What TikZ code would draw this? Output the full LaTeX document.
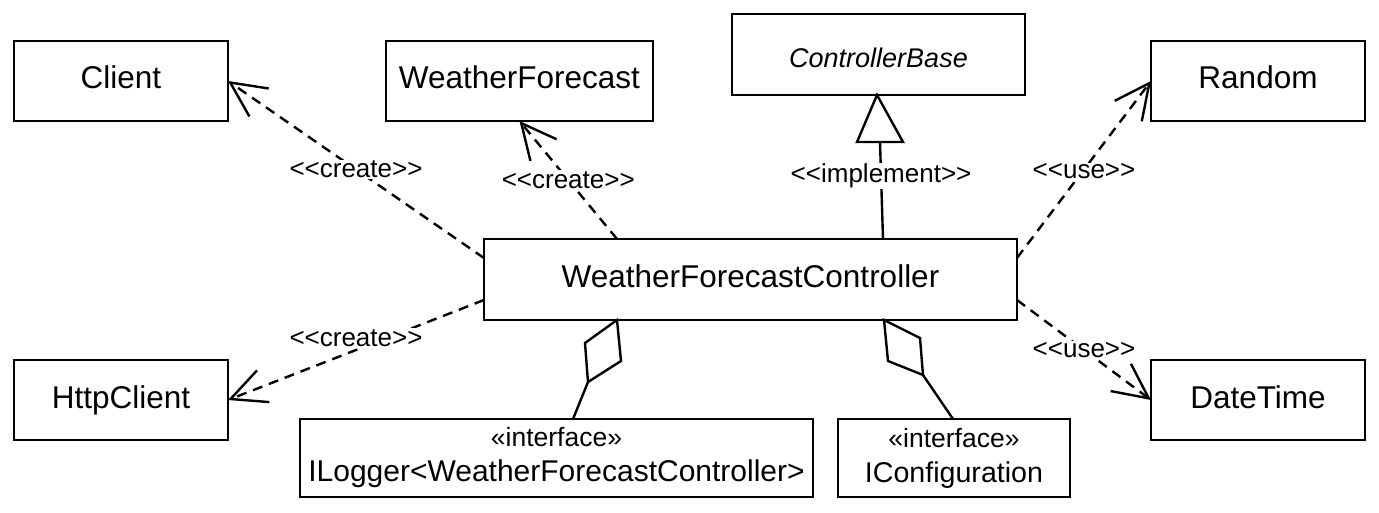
\documentclass[tikz,border=0pt]{standalone}
\usepackage{fontspec}
\setmainfont{Liberation Sans}
\usetikzlibrary{arrows.meta,calc}
\newcommand\stereo[1]{<\kern0pt<#1>\kern0pt>}
\begin{document}
\begin{tikzpicture}[x=1pt,y=-1pt,
  cls/.style={draw, line width=2.6pt, inner sep=0pt, outer sep=0pt, minimum height=80pt,
    text height=23pt, text depth=7pt, font=\fontsize{31.5}{36}\selectfont},
  iface/.style={draw, line width=2.6pt, inner sep=0pt, outer sep=0pt, minimum height=78pt,
    align=center, font=\fontsize{30}{35}\selectfont},
  dep/.style={line width=2.4pt, dash pattern=on 10pt off 7pt,
    -{Straight Barb[length=35pt,width=34pt]}},
  lbl/.style={fill=white, inner sep=1pt, font=\fontsize{26}{30}\selectfont},
  solidl/.style={line width=2.4pt, line join=miter}
]
\useasboundingbox (0,0) rectangle (1379,513);

% classes
\node[cls, minimum width=214pt] (client) at (121,81) {Client};
\node[cls, minimum width=267pt] (wf) at (519.5,81) {WeatherForecast};
\node[cls, minimum width=293pt, minimum height=81pt, text height=26pt, text depth=0pt,
  font=\fontsize{27}{32}\selectfont\itshape] (cb) at (878.5,54.5) {ControllerBase};
\node[cls, minimum width=214pt] (random) at (1258,81) {Random};
\node[cls, minimum width=533pt, minimum height=81pt] (wfc) at (750.5,279.5) {WeatherForecastController};
\node[cls, minimum width=214pt] (http) at (121,400) {HttpClient};
\node[cls, minimum width=214pt] (dt) at (1258,400) {DateTime};
\node[iface, minimum width=513pt] (ilog) at (556.5,458)
  {{\fontsize{26.5}{35}\selectfont «interface»}\\ILogger<WeatherForecastController>};
\node[iface, minimum width=232pt, font=\fontsize{28.6}{35}\selectfont] (iconf) at (954,458)
  {{\fontsize{26.5}{35}\selectfont «interface»}\\IConfiguration};

% dependencies
\draw[dep] ($(wfc.north west)+(0,19)$) -- (client.east)
  node[lbl, pos=0.5] (l1) {\stereo{create}};
\draw[dep] ($(wfc.north west)+(133,0)$) -- (wf.south)
  node[lbl, pos=0.5] (l2) {\stereo{create}};
\draw[dep] ($(wfc.south west)+(0,-20)$) -- (http.east)
  node[lbl, pos=0.5, yshift=12pt] (l3) {\stereo{create}};
\draw[dep] ($(wfc.north east)+(0,19)$) -- (random.west)
  node[lbl, pos=0.5, yshift=-2pt] (l4) {\stereo{use}};
\draw[dep] ($(wfc.south east)+(0,-20)$) -- (dt.west)
  node[lbl, pos=0.5] (l5) {\stereo{use}};

% realization
\coordinate (apex) at ($(cb.south)+(-1.5,0)$);
\draw[solidl] (apex) -- ++(-20,47) -- ++(46,0) -- cycle;
\coordinate (tbase) at ($(apex)+(3,47)$);
\draw[solidl] ($(wfc.north west)+(399,0)$) -- (tbase)
  node[lbl, pos=0.65] (l6) {\stereo{implement}};

% aggregations
\coordinate (d1) at ($(wfc.south west)+(133,0)$);
\draw[solidl] (d1) -- ++(4,41) -- ++(-33,21) -- ++(-3,-39) -- cycle;
\coordinate (d1b) at ($(d1)+(-29,62)$);
\draw[solidl] (d1b) -- ($(ilog.north west)+(273,0)$);
\coordinate (d2) at ($(wfc.south west)+(400,0)$);
\draw[solidl] (d2) -- ++(36,18) -- ++(3,37) -- ++(-35,-14) -- cycle;
\coordinate (d2b) at ($(d2)+(39,55)$);
\draw[solidl] (d2b) -- ($(iconf.north west)+(115,0)$);
\end{tikzpicture}
\end{document}
